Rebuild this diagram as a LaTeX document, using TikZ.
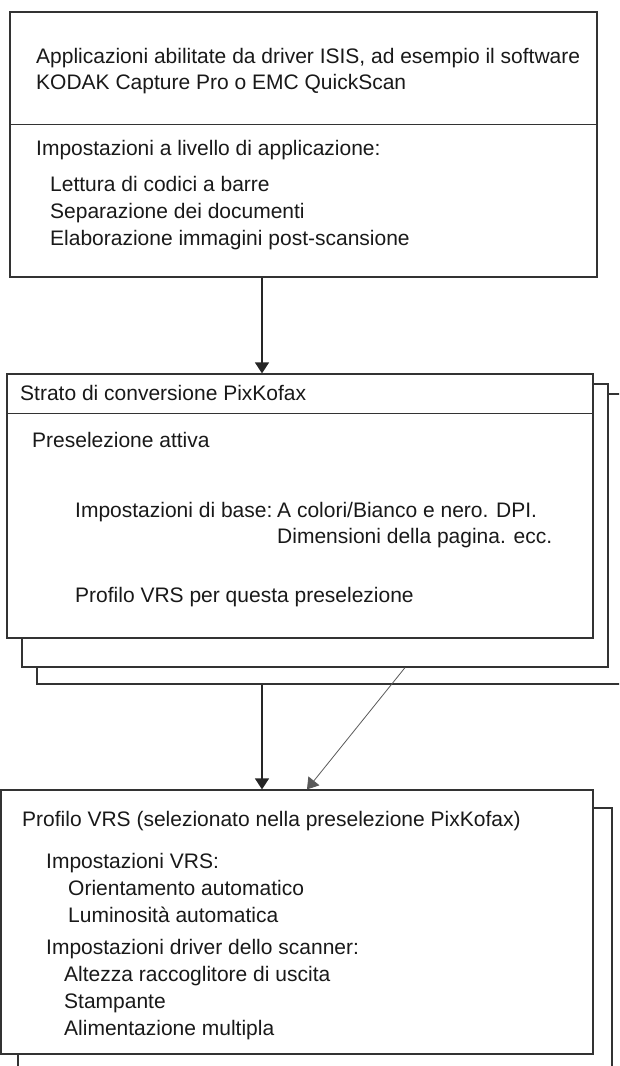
\documentclass[tikz,border=0pt]{standalone}
\usepackage{fontspec}
\setmainfont{Liberation Sans}
\usetikzlibrary{arrows.meta,positioning}

\begin{document}
\begin{tikzpicture}[x=1pt,y=-1pt,
  box/.style={draw=black!80,line width=1.2pt,fill=white,inner sep=0pt},
  txt/.style={anchor=base west,inner sep=0pt,font=\fontsize{21}{26}\selectfont,text=black!90},
  arr/.style={draw=black!85,line width=1.2pt,-{Triangle[width=14pt,length=11pt]}},
  thinarr/.style={draw=black!65,line width=0.8pt,-{Triangle[width=14pt,length=11pt]}}]
\useasboundingbox (0,0) rectangle (619,1066);
\clip (0,0) rectangle (619,1066);
% application box
\node[box,minimum width=587pt,minimum height=265pt] (app) at (303.5,144.5) {};
\draw[draw=black!80,line width=1.2pt] ([yshift=-113pt]app.north west) -- ([yshift=-113pt]app.north east);
\node[txt] (appname) at (36,63) {Applicazioni abilitate da driver ISIS, ad esempio il software};
\node[txt] (appkodak) at (36,89) {KODAK Capture Pro o EMC QuickScan};
\node[txt] (appset) at (36,155) {Impostazioni a livello di applicazione:};
\node[txt] (barcode) at (50,191) {Lettura di codici a barre};
\node[txt] (docsep) at (50,218) {Separazione dei documenti};
\node[txt] (postscan) at (50,245) {Elaborazione immagini post-scansione};
% PixKofax layer (stacked)
\node[box,minimum width=603pt,minimum height=290pt] (conv3) at (338.5,539) {};
\node[box,minimum width=586pt,minimum height=283pt] (conv2) at (315,525.5) {};
\node[box,minimum width=586pt,minimum height=264pt] (conv) at (300,506) {};
\draw[draw=black!80,line width=1.2pt] ([yshift=-40pt]conv.north west) -- ([yshift=-40pt]conv.north east);
\node[txt] (convtitle) at (20,400) {Strato di conversione PixKofax};
\node[txt] (preset) at (32,447) {Preselezione attiva};
\node[txt] (basic) at (75,517) {Impostazioni di base:};
\node[txt] (basicval) at (277,517) {A colori/Bianco e nero. DPI.};
\node[txt] (basicdim) at (277,543) {Dimensioni della pagina. ecc.};
\node[txt] (vrsprof) at (75,602) {Profilo VRS per questa preselezione};
% VRS profile (stacked)
\node[box,minimum width=594pt,minimum height=292pt] (vrs2) at (315,954) {};
\node[box,minimum width=592pt,minimum height=264pt] (vrs) at (297,922) {};
\node[txt] (vrstitle) at (22,826) {Profilo VRS (selezionato nella preselezione PixKofax)};
\node[txt] (vrsset) at (46,868) {Impostazioni VRS:};
\node[txt] (orient) at (68,895) {Orientamento automatico};
\node[txt] (bright) at (68,922) {Luminosità automatica};
\node[txt] (drvset) at (46,954) {Impostazioni driver dello scanner:};
\node[txt] (stacker) at (64,981) {Altezza raccoglitore di uscita};
\node[txt] (printer) at (64,1008) {Stampante};
\node[txt] (multifeed) at (64,1035) {Alimentazione multipla};
% connectors
\coordinate (ax) at (262,0);
\coordinate (dx1) at (405,0);
\coordinate (dx2) at (307,0);
\draw[arr] (ax |- app.south) -- (ax |- conv.north);
\draw[arr] (ax |- conv3.south) -- (ax |- vrs.north);
\draw[thinarr] (dx1 |- conv2.south) -- (dx2 |- vrs.north);
\end{tikzpicture}
\end{document}
